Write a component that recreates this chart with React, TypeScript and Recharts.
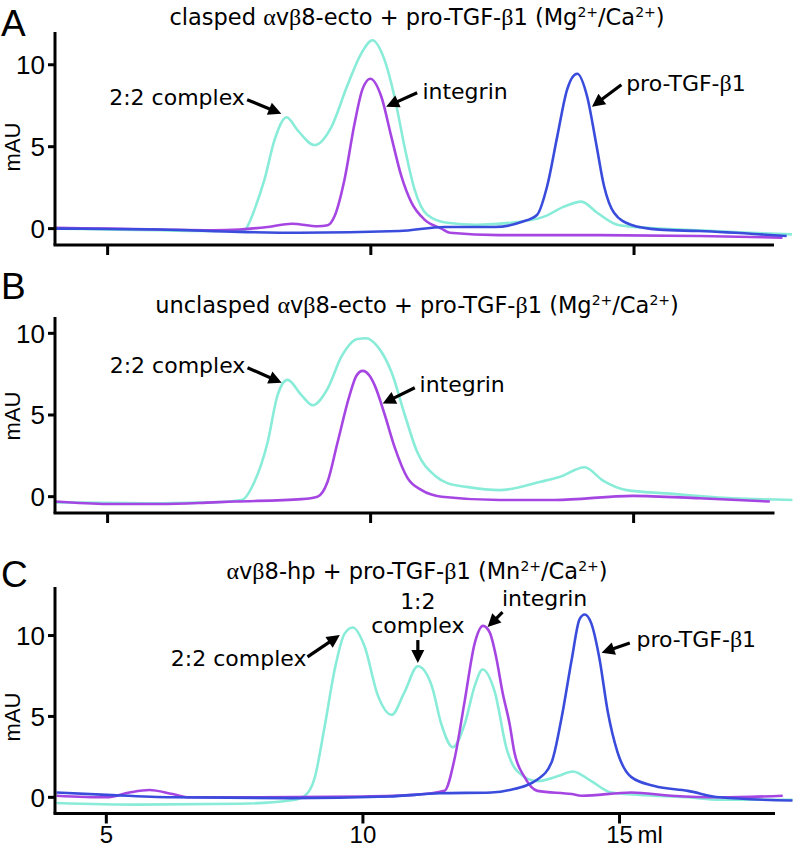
import { LineChart, Line, XAxis, YAxis, ReferenceLine, ReferenceDot } from 'recharts';

type Pt = [number, number];

const X_TICKS = [5, 10, 15];
const Y_TICKS = [0, 5, 10];

const CYAN = '#88ecd8';
const PURPLE = '#a646e2';
const BLUE = '#3a4cdc';

// A: clasped ectodomain + pro-TGF-b1, elution volume (ml) vs mAU
const aCyan: Pt[] = [
  [4.0, 0.0], [5.0, -0.05], [6.0, -0.1], [7.0, -0.15], [7.6, -0.1], [7.69, 0.36], [7.79, 1.16],
  [7.98, 3.0], [8.17, 5.4], [8.4, 6.8], [8.61, 6.0], [8.93, 5.1], [9.25, 6.2], [9.55, 8.7],
  [9.82, 10.7], [10.03, 11.5], [10.26, 10.3], [10.45, 8.05], [10.64, 5.0], [10.83, 2.4],
  [11.07, 0.85], [11.45, 0.36], [12.02, 0.24], [12.67, 0.36], [13.29, 0.73], [13.67, 1.34],
  [14.0, 1.65], [14.3, 0.97], [14.68, 0.24], [15.19, 0.06], [16.24, -0.1], [17.19, -0.25], [18.0, -0.35],
];
const aPurple: Pt[] = [
  [4.0, 0.05], [5.0, 0.0], [6.0, -0.05], [7.0, -0.1], [7.5, -0.05], [8.04, 0.1], [8.5, 0.3],
  [8.99, 0.14], [9.18, 0.2], [9.31, 0.75], [9.5, 3.0], [9.69, 6.4], [9.84, 8.5], [9.99, 9.15],
  [10.2, 8.05], [10.39, 5.6], [10.58, 3.2], [10.77, 1.6], [11.02, 0.55], [11.34, 0.0],
  [11.5, -0.25], [12.44, -0.4], [14.34, -0.4], [16.24, -0.45], [17.82, -0.55],
];
const aBlue: Pt[] = [
  [4.0, 0.0], [6.0, -0.05], [7.5, -0.2], [8.65, -0.25], [10.54, -0.15], [11.4, 0.1], [12.35, 0.1],
  [12.86, 0.4], [13.16, 0.85], [13.35, 2.6], [13.54, 5.6], [13.73, 8.5], [13.92, 9.45],
  [14.11, 8.05], [14.28, 5.2], [14.43, 2.6], [14.62, 0.97], [14.94, 0.24], [15.48, -0.06],
  [16.24, -0.15], [17.9, -0.45],
];

// B: unclasped ectodomain + pro-TGF-b1
const bCyan: Pt[] = [
  [4.0, -0.35], [6.0, -0.4], [7.0, -0.35], [7.55, -0.2], [7.79, 0.9], [8.04, 3.3], [8.23, 6.2],
  [8.42, 7.15], [8.69, 6.2], [8.9, 5.6], [9.18, 6.6], [9.45, 8.6], [9.75, 9.65], [9.92, 9.7],
  [10.13, 9.2], [10.4, 7.6], [10.65, 5.0], [10.89, 2.7], [11.22, 1.3], [11.46, 0.83],
  [11.83, 0.6], [12.45, 0.4], [13.21, 0.9], [13.59, 1.2], [14.07, 1.8], [14.41, 1.0],
  [14.87, 0.4], [15.63, 0.2], [16.88, -0.1], [18.02, -0.2],
];
const bPurple: Pt[] = [
  [4.0, -0.3], [5.0, -0.45], [6.0, -0.45], [7.0, -0.35], [7.41, -0.3], [8.69, -0.15], [8.99, 0.0],
  [9.18, 0.9], [9.37, 3.3], [9.6, 6.2], [9.73, 7.4], [9.85, 7.7], [9.98, 7.4], [10.08, 6.8],
  [10.27, 5.0], [10.46, 3.0], [10.7, 1.15], [10.97, 0.4], [11.35, 0.0], [12.45, -0.2],
  [13.5, -0.2], [14.98, 0.05], [16.25, -0.1], [17.59, -0.3],
];

// C: headpiece + pro-TGF-b1 (Mn/Ca)
const cCyan: Pt[] = [
  [4.03, -0.35], [5.6, -0.45], [7.6, -0.4], [8.57, -0.2], [8.86, 0.08], [9.06, 1.2], [9.25, 4.3],
  [9.45, 7.9], [9.64, 10.1], [9.8, 10.5], [10.03, 9.35], [10.29, 6.3], [10.56, 5.1], [10.81, 6.5],
  [11.07, 8.1], [11.34, 6.9], [11.53, 4.5], [11.75, 3.1], [11.98, 4.5], [12.18, 6.9],
  [12.33, 7.9], [12.57, 6.5], [12.8, 3.0], [13.01, 1.6], [13.4, 1.0], [13.79, 1.3], [14.09, 1.6],
  [14.45, 1.0], [14.84, 0.3], [15.68, 0.1], [16.33, 0.0], [16.95, -0.15], [18.37, -0.15],
];
const cPurple: Pt[] = [
  [4.03, 0.1], [5.0, 0.0], [5.45, 0.3], [5.84, 0.45], [6.29, 0.2], [6.62, 0.0], [8.0, 0.0],
  [10.0, 0.05], [11.0, 0.15], [11.59, 0.4], [11.79, 2.45], [11.98, 5.9], [12.18, 9.55],
  [12.34, 10.6], [12.47, 10.2], [12.6, 8.6], [12.72, 6.5], [12.86, 4.5], [12.95, 2.8],
  [13.15, 1.25], [13.4, 0.4], [14.07, 0.2], [14.26, 0.1], [15.23, 0.3], [16.01, 0.1],
  [16.95, 0.0], [18.18, 0.1],
];
const cBlue: Pt[] = [
  [4.03, 0.3], [5.01, 0.15], [6.29, 0.0], [8.57, -0.05], [10.5, 0.05], [11.5, 0.25], [12.5, 0.3],
  [12.86, 0.45], [13.4, 1.1], [13.68, 2.2], [13.87, 4.9], [14.07, 8.55], [14.22, 11.0],
  [14.32, 11.3], [14.45, 10.75], [14.61, 8.55], [14.77, 5.3], [14.96, 2.8], [15.23, 1.25],
  [15.68, 0.7], [16.33, 0.4], [16.95, 0.0], [18.37, -0.2],
];

interface Note { text: string; x: number; y: number; anchor?: 'start' | 'middle' | 'end' }

const aNotes: Note[] = [
  { text: '2:2 complex', x: 5.03, y: 7.56 },
  { text: 'integrin', x: 10.98, y: 7.93 },
  { text: 'pro-TGF-β1', x: 14.85, y: 8.37 },
];
const aArrows: [Pt, Pt][] = [
  [[7.65, 7.87], [8.3, 7.01]],
  [[10.88, 8.29], [10.29, 7.44]],
  [[14.76, 8.78], [14.2, 7.44]],
];
const bNotes: Note[] = [
  { text: '2:2 complex', x: 5.04, y: 7.6 },
  { text: 'integrin', x: 10.93, y: 6.39 },
];
const bArrows: [Pt, Pt][] = [
  [[7.66, 7.89], [8.31, 6.98]],
  [[10.84, 6.67], [10.23, 5.7]],
];
const cNotes: Note[] = [
  { text: '2:2 complex', x: 8.9, y: 8.13, anchor: 'end' },
  { text: '1:2', x: 11.07, y: 11.63, anchor: 'middle' },
  { text: 'complex', x: 11.07, y: 10.13, anchor: 'middle' },
  { text: 'integrin', x: 13.54, y: 11.81, anchor: 'middle' },
  { text: 'pro-TGF-β1', x: 15.33, y: 9.27 },
];
const cArrows: [Pt, Pt][] = [
  [[8.92, 8.68], [9.55, 10.03]],
  [[11.07, 9.72], [11.07, 8.31]],
  [[12.72, 11.44], [12.43, 10.52]],
  [[15.2, 9.54], [14.65, 8.93]],
];

const SANS = 'DejaVu Sans';
const ARIAL = 'Liberation Sans';
const SERIF = 'Liberation Serif';

const toRows = (pts: Pt[]) => pts.map(([x, y]) => ({ x, y }));

// greek letters are set in a serif face like the original figure
function rich(s: string) {
  return s.split(/([αβ])/).map((part, i) =>
    part === 'α' || part === 'β' ? (
      <tspan key={i} fontFamily={SERIF} fontSize={24}>{part}</tspan>
    ) : (
      <tspan key={i}>{part}</tspan>
    )
  );
}

function ArrowShape(props: any) {
  const { x1, y1, x2, y2 } = props;
  const dx = x2 - x1;
  const dy = y2 - y1;
  const len = Math.hypot(dx, dy) || 1;
  const ux = dx / len;
  const uy = dy / len;
  const head = 13;
  const half = 6.5;
  const bx = x2 - ux * head;
  const by = y2 - uy * head;
  return (
    <g>
      <line x1={x1} y1={y1} x2={bx + ux * 3} y2={by + uy * 3} stroke="#000" strokeWidth={3.2} />
      <polygon
        points={`${x2},${y2} ${bx - uy * half},${by + ux * half} ${bx + uy * half},${by - ux * half}`}
        fill="#000"
      />
    </g>
  );
}

function XTick(props: any) {
  const { x, y, payload } = props;
  return (
    <g>
      <text x={x} y={y} dy={17} textAnchor="middle" fontFamily={ARIAL} fontSize={24} fill="#000">
        {payload.value}
      </text>
      {payload.value === 15 && (
        <text x={x + 18} y={y} dy={17} textAnchor="start" fontFamily={ARIAL} fontSize={24} fill="#000">
          ml
        </text>
      )}
    </g>
  );
}

interface PanelProps {
  top: number;
  height: number;
  marginTop: number;
  axisH: number;
  yMax: number;
  xMax: number;
  axisEnd: number;
  cyan: Pt[];
  purple: Pt[];
  blue?: Pt[];
  notes: Note[];
  arrows: [Pt, Pt][];
  labels?: boolean;
}

function Panel(p: PanelProps) {
  return (
    <div style={{ position: 'absolute', left: 0, top: p.top }}>
      <LineChart width={793} height={p.height} margin={{ top: p.marginTop, right: 0, bottom: 0, left: 0 }}>
        <XAxis
          type="number"
          dataKey="x"
          domain={[4, p.xMax]}
          ticks={X_TICKS}
          allowDataOverflow
          axisLine={false}
          tickLine={{ stroke: '#000', strokeWidth: 3 }}
          tickSize={10}
          height={p.axisH}
          tick={p.labels ? <XTick /> : () => <g />}
        />
        <YAxis
          type="number"
          domain={[-1, p.yMax]}
          ticks={Y_TICKS}
          allowDataOverflow
          width={55}
          axisLine={{ stroke: '#000', strokeWidth: 3 }}
          tickLine={{ stroke: '#000', strokeWidth: 3 }}
          tickSize={7}
          tickMargin={3}
          tick={{ fill: '#000', fontSize: 26, fontFamily: ARIAL }}
        />
        <Line data={toRows(p.cyan)} dataKey="y" type="monotone" stroke={CYAN} strokeWidth={2.6} dot={false} isAnimationActive={false} />
        <Line data={toRows(p.purple)} dataKey="y" type="monotone" stroke={PURPLE} strokeWidth={2.6} dot={false} isAnimationActive={false} />
        {p.blue && (
          <Line data={toRows(p.blue)} dataKey="y" type="monotone" stroke={BLUE} strokeWidth={2.6} dot={false} isAnimationActive={false} />
        )}
        <ReferenceLine
          segment={[{ x: 4, y: -1 }, { x: p.axisEnd, y: -1 }]}
          stroke="#000"
          strokeWidth={3}
          strokeLinecap="square"
          ifOverflow="visible"
        />
        {p.arrows.map(([from, to], i) => (
          <ReferenceLine
            key={`ar${i}`}
            segment={[{ x: from[0], y: from[1] }, { x: to[0], y: to[1] }]}
            ifOverflow="visible"
            shape={ArrowShape}
          />
        ))}
        {p.notes.map((n, i) => (
          <ReferenceDot
            key={`n${i}`}
            x={n.x}
            y={n.y}
            r={0}
            ifOverflow="visible"
            shape={(d: any) => (
              <text x={d.cx} y={d.cy} textAnchor={n.anchor || 'start'} fontFamily={SANS} fontSize={22} fill="#000">
                {rich(n.text)}
              </text>
            )}
          />
        ))}
      </LineChart>
    </div>
  );
}

function Title({ y, lead, ion }: { y: number; lead: string; ion: string }) {
  return (
    <text x={417} y={y} textAnchor="middle" fontFamily={SANS} fontSize={22.5} fill="#000">
      {rich(lead)}
      <tspan>{' ('}{ion}</tspan>
      <tspan baselineShift="super" fontSize={14}>2+</tspan>
      <tspan>/Ca</tspan>
      <tspan baselineShift="super" fontSize={14}>2+</tspan>
      <tspan>)</tspan>
    </text>
  );
}

export default function App() {
  return (
    <div style={{ position: 'absolute', left: 0, top: 0, width: 793, height: 848, background: '#fff' }}>
      <Panel top={0} height={270} marginTop={32} axisH={25} yMax={12} xMax={18.02} axisEnd={17.63}
        cyan={aCyan} purple={aPurple} blue={aBlue} notes={aNotes} arrows={aArrows} />
      <Panel top={270} height={270} marginTop={47} axisH={27} yMax={11} xMax={18.03} axisEnd={17.65}
        cyan={bCyan} purple={bPurple} notes={bNotes} arrows={bArrows} />
      <Panel top={540} height={308} marginTop={47} axisH={34.5} yMax={13} xMax={18.38} axisEnd={18}
        cyan={cCyan} purple={cPurple} blue={cBlue} notes={cNotes} arrows={cArrows} labels />
      <svg width={793} height={848} style={{ position: 'absolute', left: 0, top: 0, pointerEvents: 'none' }}>
        <Title y={25} lead="clasped αvβ8-ecto + pro-TGF-β1" ion="Mg" />
        <Title y={313} lead="unclasped αvβ8-ecto + pro-TGF-β1" ion="Mg" />
        <Title y={579} lead="αvβ8-hp + pro-TGF-β1" ion="Mn" />
        <text x={1} y={36} fontFamily={ARIAL} fontSize={37} fill="#000">A</text>
        <text x={1} y={299} fontFamily={ARIAL} fontSize={37} fill="#000">B</text>
        <text x={1} y={587} fontFamily={ARIAL} fontSize={37} fill="#000">C</text>
        <text transform="translate(20,147) rotate(-90)" textAnchor="middle" fontFamily={ARIAL} fontSize={22} fill="#000">mAU</text>
        <text transform="translate(20,416) rotate(-90)" textAnchor="middle" fontFamily={ARIAL} fontSize={22} fill="#000">mAU</text>
        <text transform="translate(20,717) rotate(-90)" textAnchor="middle" fontFamily={ARIAL} fontSize={22} fill="#000">mAU</text>
      </svg>
    </div>
  );
}
